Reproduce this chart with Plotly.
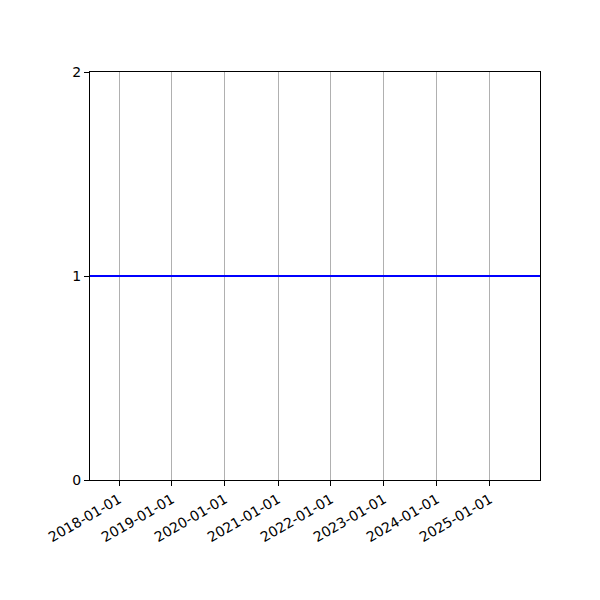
import plotly.graph_objects as go

# series: flat value of 1 over the whole period
dates = ["2017-06-15", "2025-12-12"]
values = [1, 1]
tick_dates = ["2018-01-01", "2019-01-01", "2020-01-01", "2021-01-01",
              "2022-01-01", "2023-01-01", "2024-01-01", "2025-01-01"]
y_ticks = [0, 1, 2]

fig = go.Figure()
fig.add_trace(go.Scatter(x=dates, y=values, mode="lines",
                         line=dict(color="#0000ff", width=2), showlegend=False))

fig.update_xaxes(type="date", range=[dates[0], dates[-1]],
                 tickvals=tick_dates, ticktext=tick_dates, tickangle=-30,
                 showgrid=True, gridcolor="#b0b0b0", gridwidth=0.8,
                 showline=True, linecolor="black", linewidth=1, mirror=True,
                 ticks="outside", ticklen=5, tickcolor="black", zeroline=False)
fig.update_yaxes(range=[0, 2], tickvals=y_ticks, showgrid=False,
                 showline=True, linecolor="black", linewidth=1, mirror=True,
                 ticks="outside", ticklen=5, tickcolor="black", zeroline=False)

fig.update_layout(width=600, height=600, plot_bgcolor="white", paper_bgcolor="white",
                  margin=dict(l=82, r=68, t=64, b=128),
                  font=dict(family="DejaVu Sans", size=14, color="black"))
fig.write_html("out.html")
